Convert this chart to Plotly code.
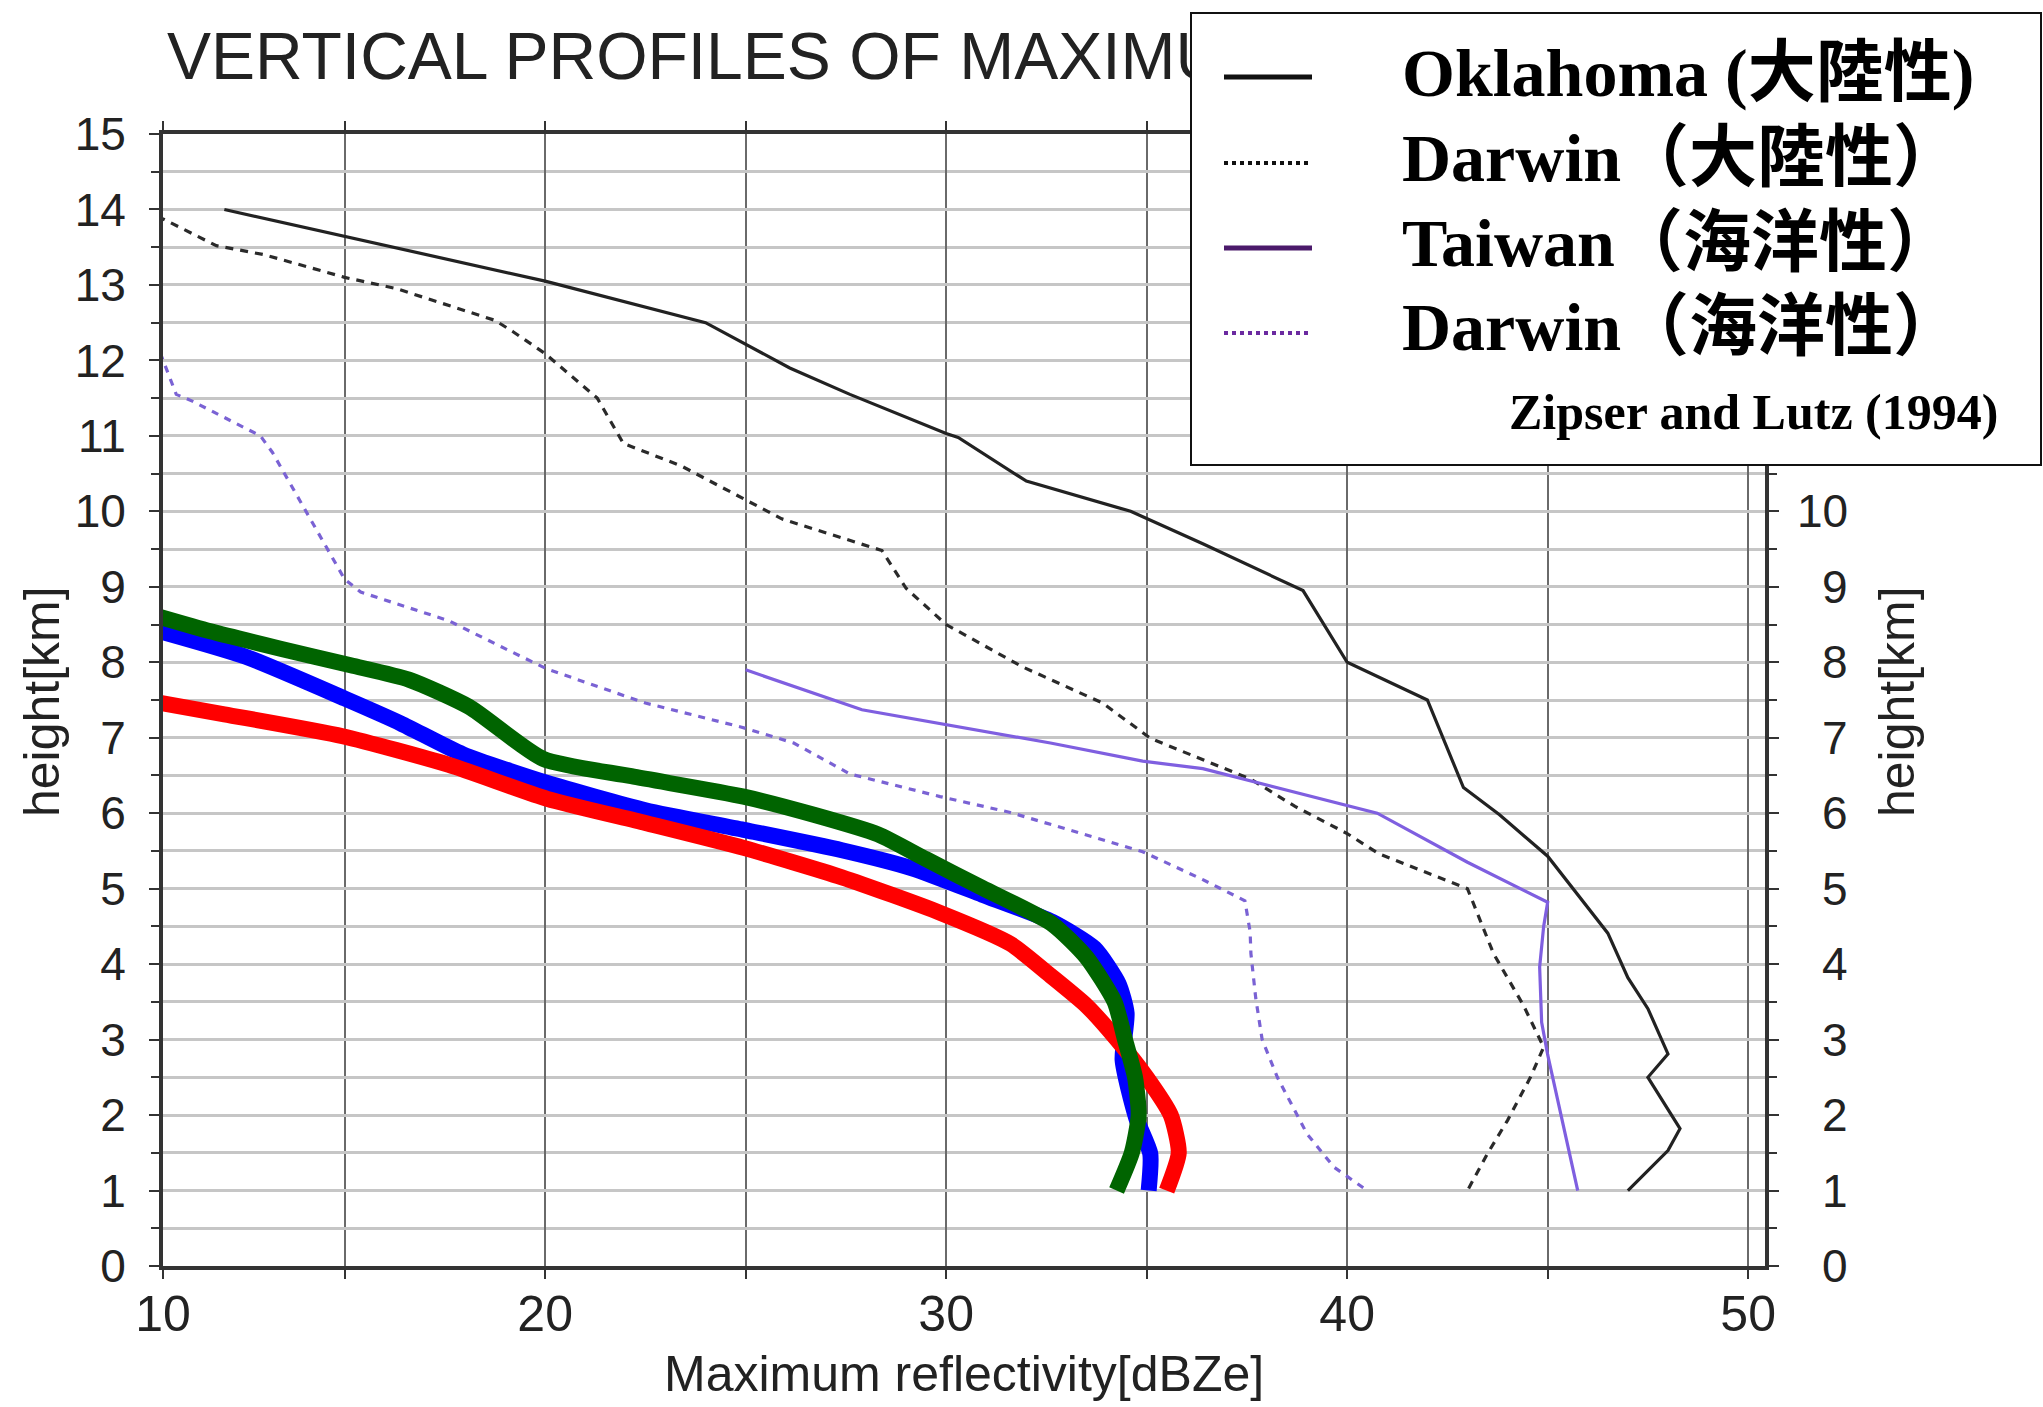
import plotly.graph_objects as go

# ---- profile data: maximum reflectivity (dBZe) versus height (km) ----
# thick profiles
green_dbz = [10.0, 11.65, 13.4, 15.15, 16.6, 18.1, 19.95, 22.15, 24.95, 26.7, 28.3, 29.5,
             30.9, 32.65, 33.5, 34.2, 34.46, 34.71, 34.8, 34.63, 34.25]
green_h = [8.66, 8.41, 8.18, 7.96, 7.77, 7.41, 6.72, 6.49, 6.22, 5.98, 5.72, 5.39,
           5.01, 4.53, 4.09, 3.5, 3.0, 2.5, 2.0, 1.5, 1.0]

blue_dbz = [10.0, 12.5, 15.0, 16.4, 17.95, 20.05, 22.5, 24.95, 27.4, 29.15, 30.9, 32.65,
            33.7, 34.3, 34.5, 34.4, 34.74, 35.09, 35.05]
blue_h = [8.47, 8.08, 7.52, 7.19, 6.78, 6.4, 6.04, 5.78, 5.51, 5.27, 4.92, 4.56,
          4.21, 3.74, 3.35, 2.73, 1.96, 1.49, 1.0]

red_dbz = [10.0, 12.0, 14.95, 17.6, 20.05, 22.5, 24.95, 27.4, 29.85, 31.6, 32.6, 33.5,
           34.26, 35.0, 35.6, 35.8, 35.5]
red_h = [7.5, 7.31, 7.02, 6.64, 6.19, 5.87, 5.54, 5.15, 4.68, 4.27, 3.85, 3.45,
         3.0, 2.5, 2.0, 1.5, 1.0]

# Zipser and Lutz (1994) profiles
okla_dbz = [12.0, 20.0, 24.0, 26.1, 27.6, 30.0, 30.3, 32.0, 34.6, 36.4, 38.9, 40.0, 42.0,
            42.9, 43.8, 45.0, 46.5, 47.0, 47.5, 48.0, 47.5, 48.3, 48.0, 47.0]
okla_h = [14.0, 13.05, 12.5, 11.9, 11.55, 11.03, 10.98, 10.4, 10.0, 9.57, 8.95, 8.0, 7.5,
          6.34, 5.98, 5.43, 4.41, 3.82, 3.41, 2.81, 2.5, 1.82, 1.53, 1.0]

darwin_c_dbz = [10.0, 11.8, 13.0, 15.0, 16.3, 18.75, 19.2, 20.0, 21.3, 21.95, 23.4, 25.0,
                25.9, 28.4, 29.0, 30.0, 31.9, 33.9, 35.1, 37.6, 38.7, 40.0, 40.8, 41.8,
                43.0, 43.65, 44.4, 44.9, 44.57, 44.0, 43.5, 43.0]
darwin_c_h = [14.0, 13.52, 13.4, 13.1, 12.95, 12.53, 12.38, 12.09, 11.5, 10.9, 10.6, 10.15,
              9.9, 9.48, 8.98, 8.5, 7.94, 7.46, 6.99, 6.45, 6.09, 5.73, 5.46, 5.25,
              5.0, 4.14, 3.45, 2.9, 2.5, 1.93, 1.49, 1.0]

taiwan_dbz = [25.0, 27.9, 32.6, 34.9, 36.4, 40.75, 43.0, 45.0, 44.9, 44.8, 44.85, 45.0, 45.75]
taiwan_h = [7.9, 7.37, 6.93, 6.69, 6.59, 6.0, 5.35, 4.82, 4.5, 3.96, 3.23, 2.8, 1.0]

darwin_o_dbz = [10.4, 10.8, 11.2, 12.9, 13.2, 14.2, 15.0, 15.4, 17.6, 19.0, 20.05, 22.5,
                24.9, 26.2, 27.6, 29.85, 31.6, 34.9, 36.4, 37.45, 37.58, 37.6, 37.72,
                37.88, 38.26, 39.0, 39.67, 40.5]
darwin_o_h = [12.1, 11.55, 11.46, 11.0, 10.78, 9.84, 9.1, 8.93, 8.55, 8.18, 7.91, 7.46,
              7.14, 6.93, 6.52, 6.22, 6.01, 5.49, 5.12, 4.84, 4.43, 4.14, 3.55,
              3.0, 2.5, 1.75, 1.31, 1.0]

legend_labels = ["Oklahoma (大陸性)", "Darwin（大陸性）", "Taiwan（海洋性）", "Darwin（海洋性）"]
source_label = "Zipser and Lutz (1994)"
title_text = "VERTICAL PROFILES OF MAXIMUM REFLECTIVITY"
x_tick_labels = ["10", "20", "30", "40", "50"]
right_tick_values = list(range(0, 11))

# ---- layout geometry (pixels) ----
W, H = 2043, 1407
L, R, T, B = 163, 1765, 134, 1266
X0, X1 = 10.47, 50.42


def fx(px):
    return (px - L) / (R - L)


def fy(py):
    # paper area runs from the top of the figure down to the x axis
    return (B - py) / B


SANS = "Liberation Sans, Arial, sans-serif"
SERIF = "Liberation Serif, Noto Sans CJK TC, serif"
INK = "#222222"

fig = go.Figure()

# title text on a hidden pixel-scaled overlay subplot, so the legend panel can sit over it
fig.add_trace(go.Scatter(
    x=[L + 4], y=[62], xaxis="x2", yaxis="y2", mode="text",
    text=[title_text], textposition="middle right", cliponaxis=False,
    textfont=dict(family=SANS, size=66, color=INK),
    showlegend=False, hoverinfo="skip"))

thin = [
    (okla_dbz, okla_h, "#222222", None),
    (darwin_c_dbz, darwin_c_h, "#2a2a2a", "8px,7px"),
    (taiwan_dbz, taiwan_h, "#7f5fe0", None),
    (darwin_o_dbz, darwin_o_h, "#7a62d4", "7px,7px"),
]
for xs, ys, col, dash in thin:
    fig.add_trace(go.Scatter(
        x=xs, y=ys, mode="lines",
        line=dict(color=col, width=3.2, dash=dash),
        showlegend=False, hoverinfo="skip"))

for xs, ys, col in [(blue_dbz, blue_h, "#0000ff"),
                    (red_dbz, red_h, "#ff0000"),
                    (green_dbz, green_h, "#006400")]:
    fig.add_trace(go.Scatter(
        x=xs, y=ys, mode="lines",
        line=dict(color=col, width=16, shape="spline", smoothing=0.6),
        showlegend=False, hoverinfo="skip"))

shapes = []
# legend panel
shapes.append(dict(type="rect", xref="paper", yref="paper", layer="above",
                   x0=fx(1191), x1=fx(2041), y0=fy(465), y1=fy(13),
                   fillcolor="white", line=dict(color="#111111", width=2)))
sample_styles = [("#111111", "solid", 5), ("#111111", "dot", 4),
                 ("#4b1a6b", "solid", 5), ("#6b2aa0", "dot", 4)]
sample_rows = [77, 163, 248, 333]
text_rows = [73, 158, 243, 327]
for (col, dash, w), yy in zip(sample_styles, sample_rows):
    shapes.append(dict(type="line", xref="paper", yref="paper", layer="above",
                       x0=fx(1224), x1=fx(1312), y0=fy(yy), y1=fy(yy),
                       line=dict(color=col, width=w, dash=dash)))

annotations = []
for lab, yy in zip(legend_labels, text_rows):
    annotations.append(dict(xref="paper", yref="paper", x=fx(1400), y=fy(yy),
                            xanchor="left", yanchor="middle", showarrow=False,
                            text=lab, font=dict(family=SERIF, size=68, color="#000000",
                                                weight="bold")))
annotations.append(dict(xref="paper", yref="paper", x=fx(2000), y=fy(412),
                        xanchor="right", yanchor="middle", showarrow=False,
                        text=source_label,
                        font=dict(family=SERIF, size=50, color="#000000", weight="bold")))

# right-hand height labels
for v in right_tick_values:
    annotations.append(dict(xref="paper", yref="y", x=1.0, y=v, xshift=1850 - R,
                            xanchor="right", yanchor="middle", showarrow=False,
                            text=str(v), font=dict(family=SANS, size=46, color=INK)))

# axis titles
annotations.append(dict(xref="paper", yref="paper", x=fx(42), y=fy(702),
                        xanchor="center", yanchor="middle", showarrow=False,
                        text="height[km]", textangle=-90,
                        font=dict(family=SANS, size=50, color=INK)))
annotations.append(dict(xref="paper", yref="paper", x=fx(1897), y=fy(702),
                        xanchor="center", yanchor="middle", showarrow=False,
                        text="height[km]", textangle=-90,
                        font=dict(family=SANS, size=50, color=INK)))
annotations.append(dict(xref="paper", yref="paper", x=fx(964), y=fy(1374),
                        xanchor="center", yanchor="middle", showarrow=False,
                        text="Maximum reflectivity[dBZe]",
                        font=dict(family=SANS, size=50, color=INK)))

fig.update_layout(
    width=W, height=H,
    margin=dict(l=L, r=W - R, t=0, b=H - B, pad=0, autoexpand=False),
    paper_bgcolor="white", plot_bgcolor="rgba(0,0,0,0)",
    showlegend=False,
    shapes=shapes, annotations=annotations,
    xaxis=dict(
        domain=[0, 1], anchor="y",
        range=[X0, X1], tickmode="array",
        tickvals=[X0, 20, 30, 40, 50], ticktext=x_tick_labels,
        ticks="outside", ticklen=9, tickwidth=2, tickcolor="#333333",
        ticklabelstandoff=-8,
        tickfont=dict(family=SANS, size=50, color=INK),
        showline=True, linewidth=4, linecolor="#333333", mirror="allticks",
        showgrid=True, gridcolor="#6a6a6a", gridwidth=1.6, zeroline=False,
        minor=dict(tickvals=[15, 25, 35, 45], ticks="outside", ticklen=9,
                   tickwidth=2, tickcolor="#333333",
                   showgrid=True, gridcolor="#6a6a6a", gridwidth=1.6),
    ),
    yaxis=dict(
        domain=[0, (B - T) / B], anchor="x",
        range=[0, 15], tickmode="linear", tick0=0, dtick=1,
        ticks="outside", ticklen=10, tickwidth=2, tickcolor="#333333",
        ticklabelstandoff=14,
        tickfont=dict(family=SANS, size=46, color=INK),
        showline=True, linewidth=4, linecolor="#333333", mirror="allticks",
        showgrid=True, gridcolor="#c6c6c6", gridwidth=3, zeroline=False,
        minor=dict(dtick=0.5, ticks="outside", ticklen=8, tickwidth=2,
                   tickcolor="#333333",
                   showgrid=True, gridcolor="#c6c6c6", gridwidth=3),
    ),
    xaxis2=dict(domain=[0, 1], anchor="y2", range=[L, R], visible=False),
    yaxis2=dict(domain=[0, 1], anchor="x2", range=[B, 0], visible=False),
)

fig.write_html("out.html")
